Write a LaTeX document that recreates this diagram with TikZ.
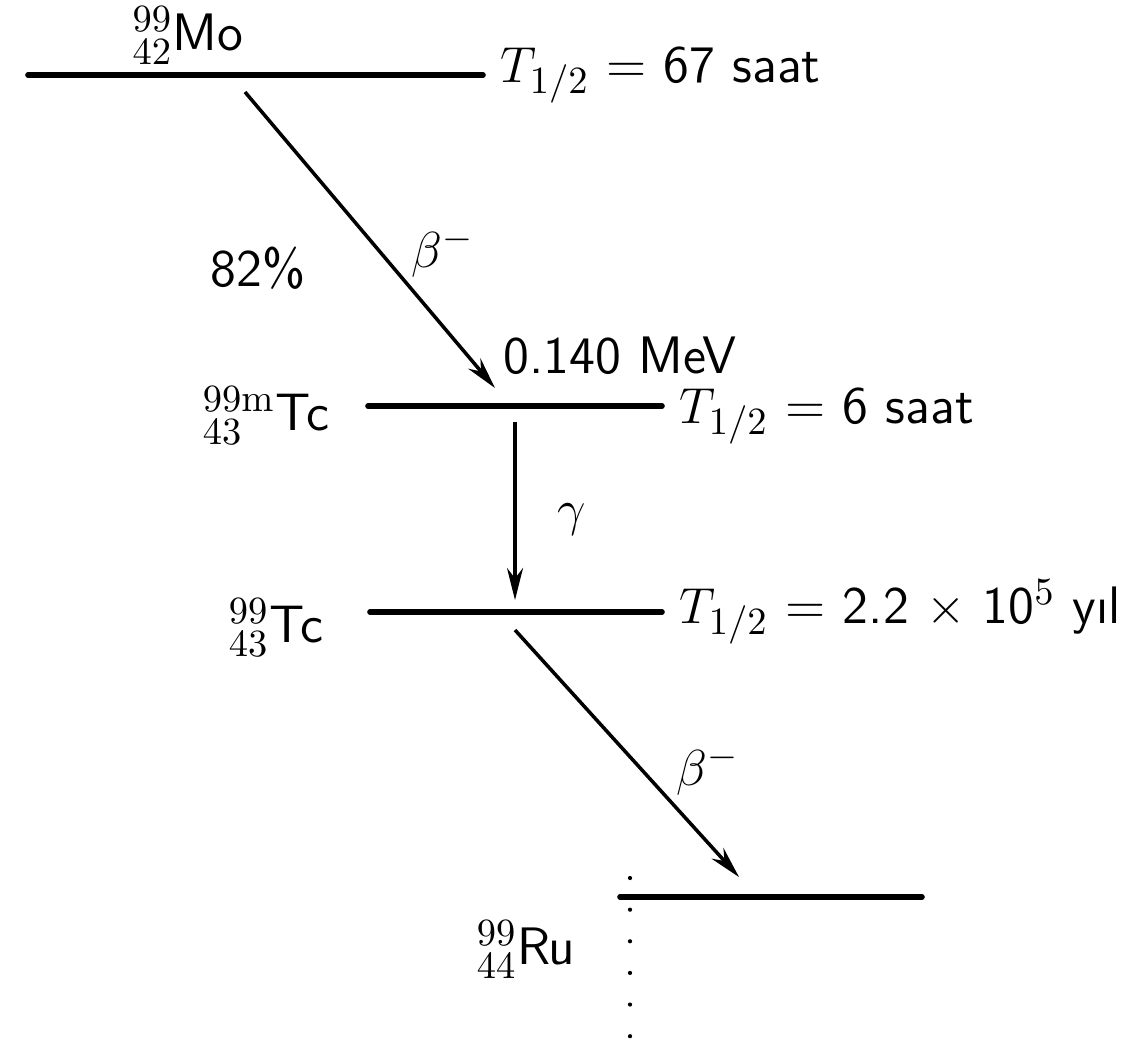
\documentclass[tikz,border=0pt]{standalone}
\usepackage{amsmath}
\usepackage{tikz}
\usetikzlibrary{arrows.meta, positioning}

\begin{document}
\begin{tikzpicture}[x=1cm, y=1cm, font=\sffamily\fontsize{15}{18}\selectfont,
    level/.style={line width=1.6pt, line cap=round},
    decay/.style={line width=1pt, -{Stealth[length=3.2mm, width=1.6mm]}},
    halflife/.style={right, inner xsep=1.5mm, inner ysep=0pt}]
    \useasboundingbox (0,0) rectangle (11.21,-10.53);

    % --- Mo-99 ---
    \coordinate (mo-l) at (0.28,-0.75);
    \coordinate (mo-r) at (4.83,-0.75);
    \draw[level] (mo-l) -- (mo-r) node[halflife] (t-mo) {$T_{1/2}$ = 67 saat};
    \node (mo) at (1.88,-0.36) {${}^{99}_{42}$Mo};

    % --- beta- bozunumu (Mo -> Tc-99m) ---
    \coordinate (b1-s) at (2.45,-0.92);
    \coordinate (b1-e) at (4.95,-3.88);
    \draw[decay] (b1-s) -- (b1-e);
    \node (pct) at (2.58,-2.68) {82\%};
    \node (beta1) at (4.43,-2.52) {$\beta^-$};
    \node[inner sep=0pt] (mev) at (6.2,-3.56) {0.140 MeV};

    % --- Tc-99m ---
    \coordinate (tcm-l) at (3.68,-4.06);
    \coordinate (tcm-r) at (6.62,-4.06);
    \draw[level] (tcm-l) -- (tcm-r) node[halflife, yshift=-1mm] (t-tcm) {$T_{1/2}$ = 6 saat};
    \node (tcm) at (2.66,-4.16) {${}^{99\mathrm{m}}_{43}$Tc};

    % --- gamma gecisi ---
    \coordinate (g-s) at (5.15,-4.22);
    \coordinate (g-e) at (5.15,-6.0);
    \draw[decay] (g-s) -- (g-e);
    \node (gamma) at (5.72,-5.2) {$\gamma$};

    % --- Tc-99 ---
    \coordinate (tc-l) at (3.70,-6.12);
    \coordinate (tc-r) at (6.62,-6.12);
    \draw[level] (tc-l) -- (tc-r) node[halflife] (t-tc) {$T_{1/2}$ = 2.2 $\times$ 10$^5$ y\i l};
    \node (tc) at (2.76,-6.28) {${}^{99}_{43}$Tc};

    % --- beta- bozunumu (Tc -> Ru) ---
    \coordinate (b2-s) at (5.15,-6.30);
    \coordinate (b2-e) at (7.39,-8.77);
    \draw[decay] (b2-s) -- (b2-e);
    \node (beta2) at (7.08,-7.7) {$\beta^-$};

    % --- Ru-99 (kararli) ---
    \coordinate (ru-l) at (6.20,-8.97);
    \coordinate (ru-r) at (9.22,-8.97);
    \draw[level] (ru-l) -- (ru-r);
    \node (ru) at (5.26,-9.5) {${}^{99}_{44}$Ru};
    \coordinate (dot-s) at (6.30,-8.78);
    \coordinate (dot-e) at (6.30,-10.48);
    \draw[line width=1.2pt, line cap=round, dash pattern=on 0pt off 9pt] (dot-s) -- (dot-e);
\end{tikzpicture}
\end{document}
